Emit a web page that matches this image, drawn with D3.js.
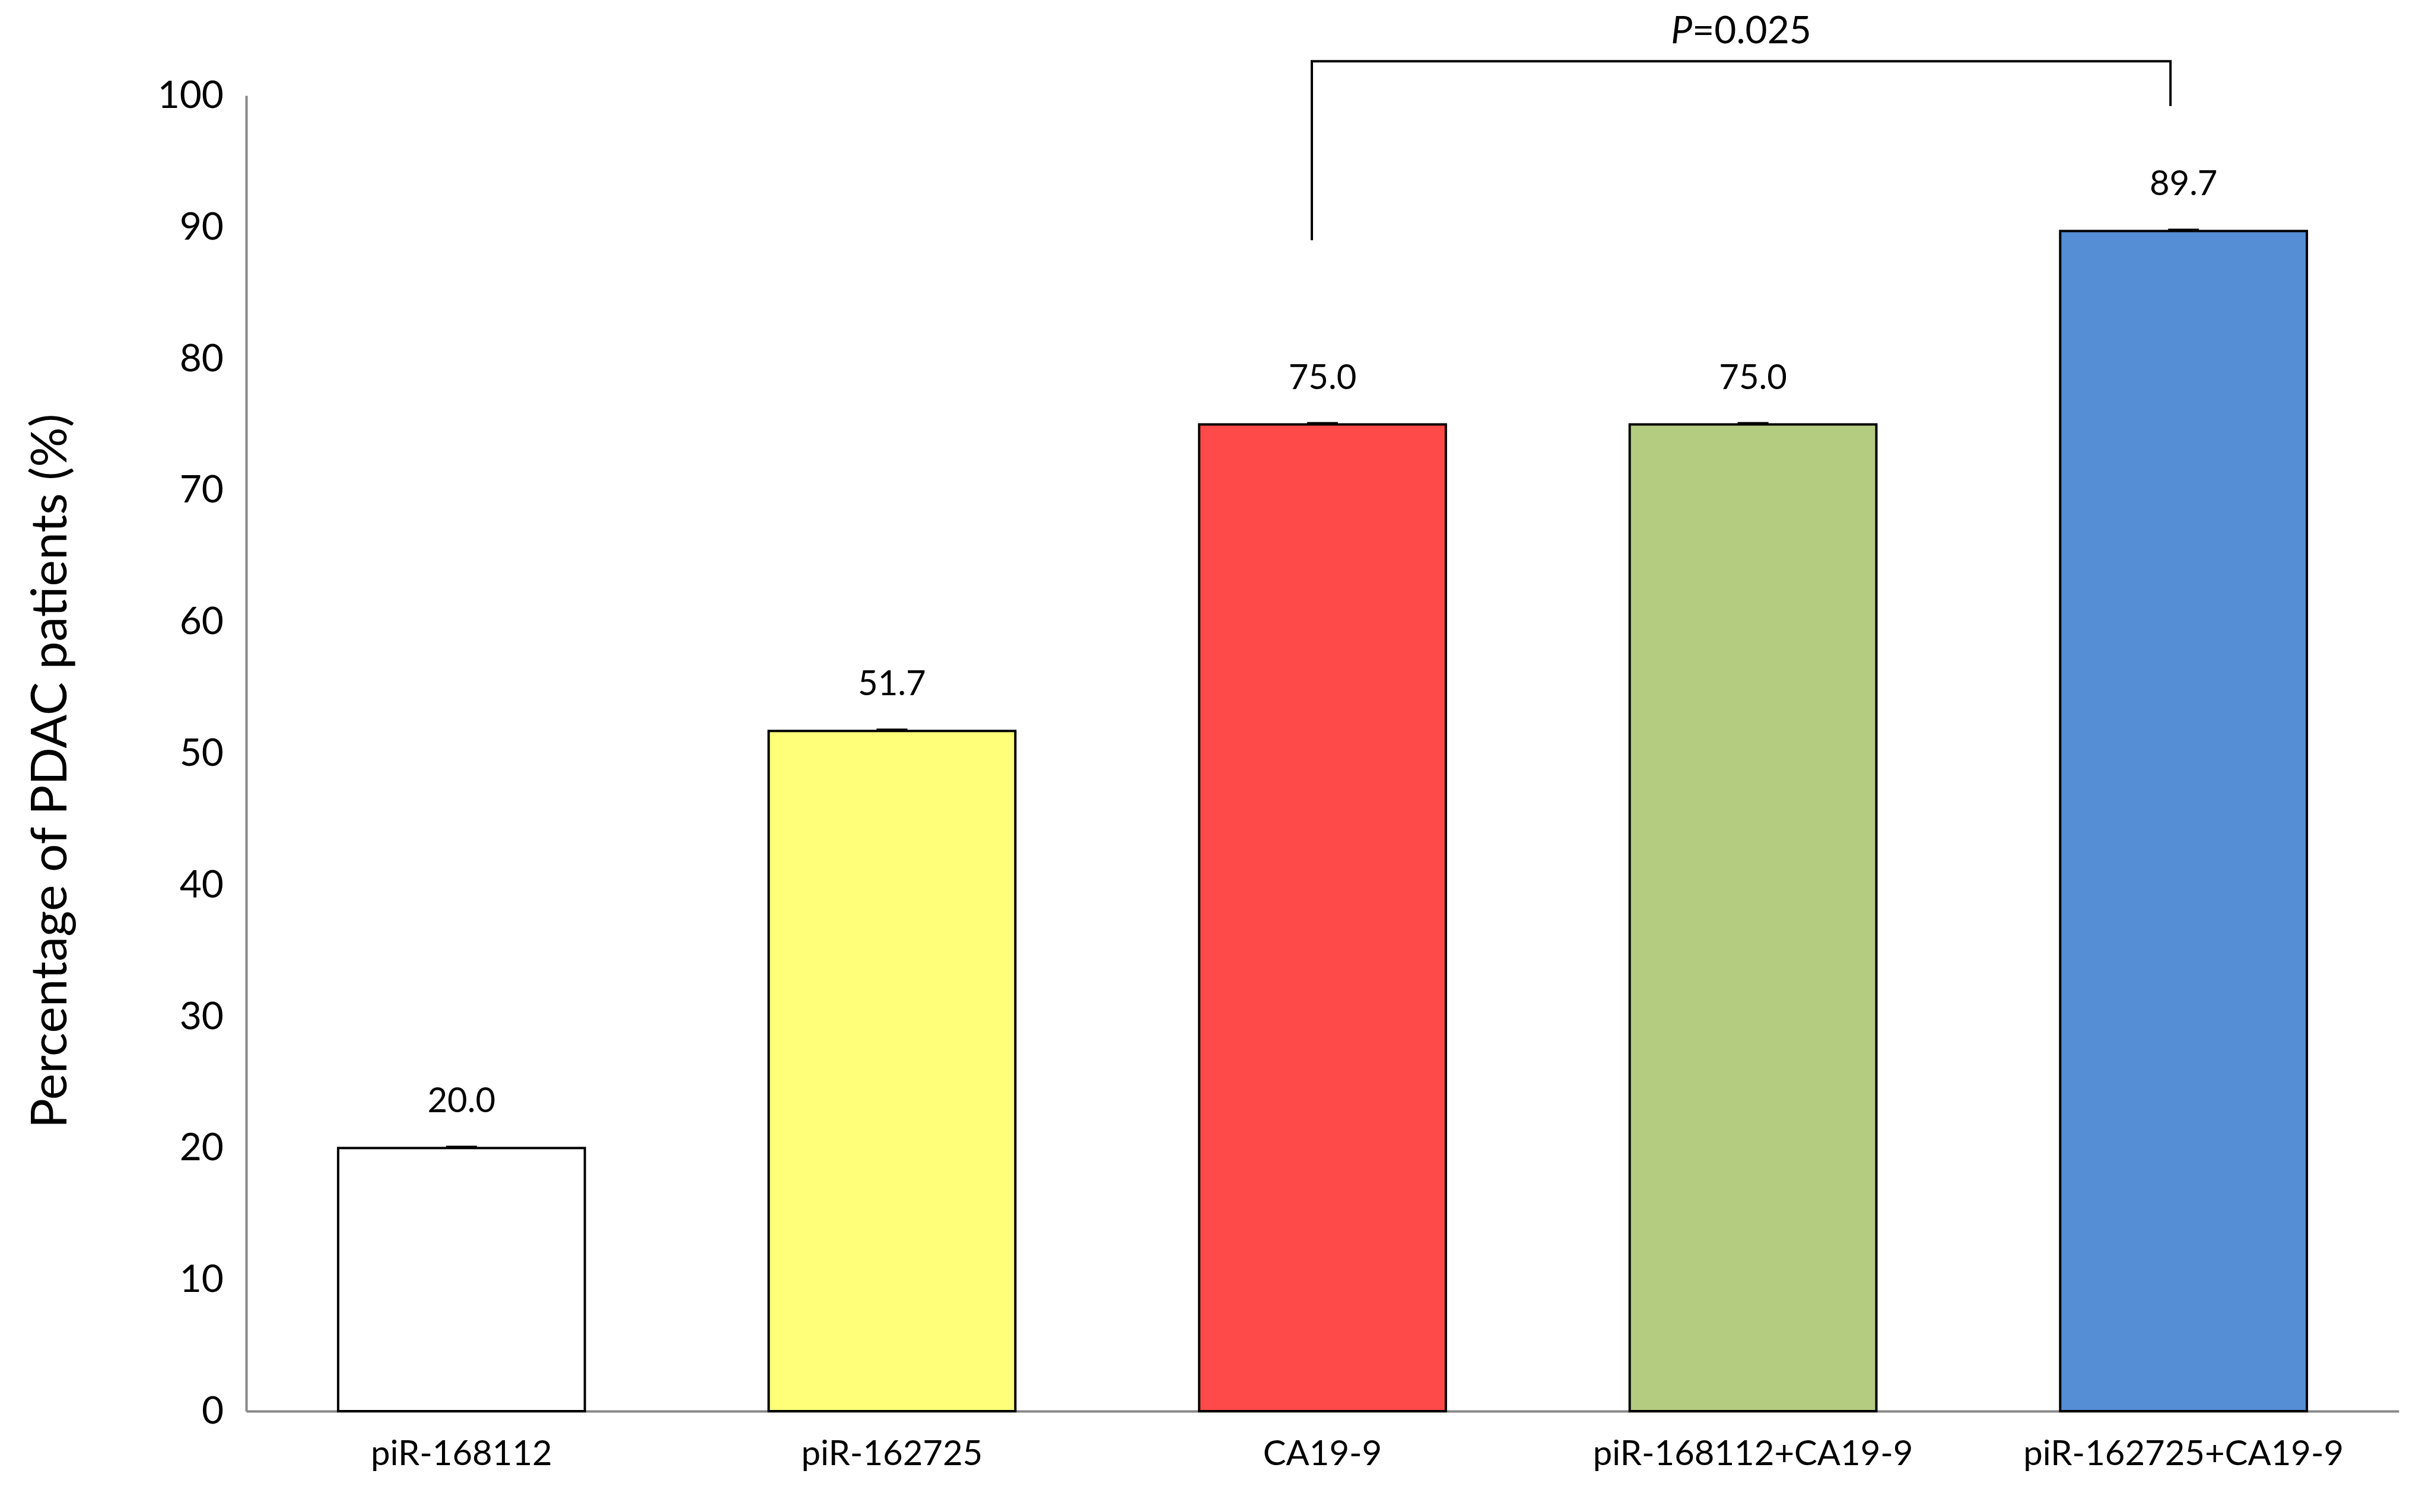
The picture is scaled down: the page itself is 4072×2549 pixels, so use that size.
<!DOCTYPE html>
<html>
<head>
<script src="https://cdnjs.cloudflare.com/ajax/libs/d3/7.8.5/d3.min.js"></script>
<style>
  body { margin: 0; background: #fff; }
  text { font-family: Lato, "Open Sans", sans-serif; fill: #000; }
</style>
</head>
<body>
<svg id="chart"></svg>
<script>
const categories = ["piR-168112", "piR-162725", "CA19-9", "piR-168112+CA19-9", "piR-162725+CA19-9"];
const values = [20.0, 51.7, 75.0, 75.0, 89.7];
const colors = ["#ffffff", "#ffff7a", "#ff4a4a", "#b4cc80", "#558ed5"];
const yTicks = [0, 10, 20, 30, 40, 50, 60, 70, 80, 90, 100];

const W = 4072, H = 2549;
const margin = { left: 415, right: 29, top: 161, bottom: 170 };
const svg = d3.select("#chart").attr("width", W).attr("height", H);

const x = d3.scaleBand().domain(categories)
    .range([margin.left, W - margin.right]).paddingInner(0.427).paddingOuter(0.2135);
const y = d3.scaleLinear().domain([0, 100]).range([H - margin.bottom, margin.top]);

// axes
const yAxis = svg.append("g").attr("transform", `translate(${margin.left},0)`)
    .call(d3.axisLeft(y).tickValues(yTicks).tickSize(0).tickPadding(38));
yAxis.select(".domain").attr("stroke", "#888").attr("stroke-width", 4);
yAxis.selectAll("text").style("font-size", "64px");

const xAxis = svg.append("g").attr("transform", `translate(0,${H - margin.bottom})`)
    .call(d3.axisBottom(x).tickSize(0).tickPadding(50));
xAxis.select(".domain").attr("stroke", "#888").attr("stroke-width", 4);
xAxis.selectAll("text").style("font-size", "58px");

// bars
svg.append("g").selectAll("rect").data(values).join("rect")
    .attr("x", (d, i) => x(categories[i]))
    .attr("y", d => y(d))
    .attr("width", x.bandwidth())
    .attr("height", d => y(0) - y(d))
    .attr("fill", (d, i) => colors[i])
    .attr("stroke", "#000").attr("stroke-width", 4);

// tiny error caps
svg.append("g").selectAll("line").data(values).join("line")
    .attr("x1", (d, i) => x(categories[i]) + x.bandwidth() / 2 - 26)
    .attr("x2", (d, i) => x(categories[i]) + x.bandwidth() / 2 + 26)
    .attr("y1", d => y(d) - 2).attr("y2", d => y(d) - 2)
    .attr("stroke", "#000").attr("stroke-width", 4);

// value labels
svg.append("g").selectAll("text").data(values).join("text")
    .attr("x", (d, i) => x(categories[i]) + x.bandwidth() / 2)
    .attr("y", d => y(d) - 60)
    .attr("text-anchor", "middle")
    .style("font-size", "58px")
    .text(d => d.toFixed(1));

// y label
svg.append("text")
    .attr("transform", `translate(112,${(margin.top + H - margin.bottom) / 2 + 30}) rotate(-90)`)
    .attr("text-anchor", "middle")
    .style("font-size", "84px")
    .text("Percentage of PDAC patients (%)");

// significance bracket
const bx1 = x(categories[2]) + x.bandwidth() / 2 - 18;
const bx2 = x(categories[4]) + x.bandwidth() / 2 - 22;
const by = y(102.6);
svg.append("path")
    .attr("d", `M${bx1},${y(89)}V${by}H${bx2}V${y(99.2)}`)
    .attr("fill", "none").attr("stroke", "#000").attr("stroke-width", 4);
const pt = svg.append("text")
    .attr("x", (bx1 + bx2) / 2).attr("y", by - 30)
    .attr("text-anchor", "middle").style("font-size", "64px");
pt.append("tspan").style("font-style", "italic").text("P");
pt.append("tspan").text("=0.025");
</script>
</body>
</html>
